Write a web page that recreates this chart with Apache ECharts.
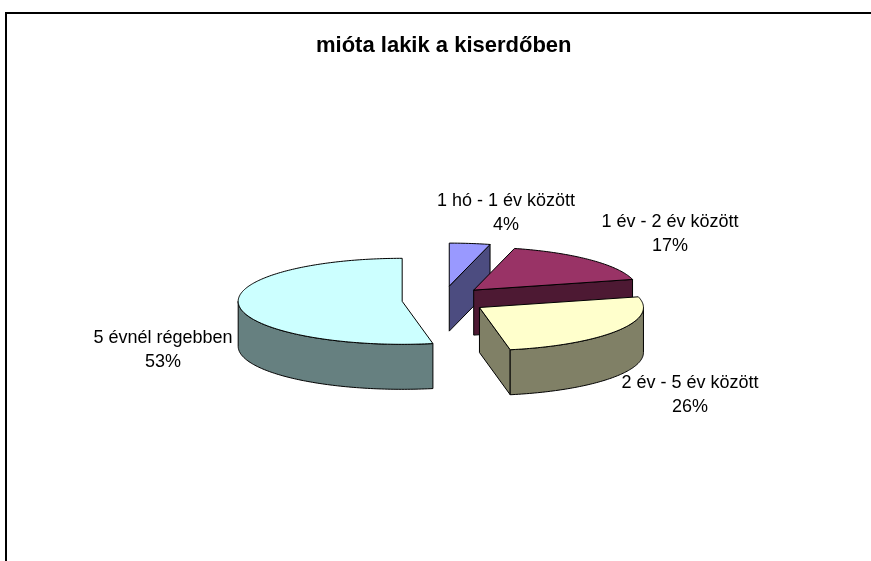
<!DOCTYPE html>
<html>
<head>
<meta charset="utf-8">
<script src="https://cdn.jsdelivr.net/npm/echarts@6/dist/echarts.min.js"></script>
<style>
html,body{margin:0;padding:0;background:#fff;}
#chart{width:871px;height:561px;}
</style>
</head>
<body>
<div id="chart"></div>
<script>
// ---- data ----
const categories = ['1 hó - 1 év között', '1 év - 2 év között', '2 év - 5 év között', '5 évnél régebben'];
const values = [4, 17, 26, 53];
const titleText = 'mióta lakik a kiserdőben';

// ---- styles / layout ----
const topColors = ['#9999FF', '#993366', '#FFFFCC', '#CCFFFF'];
const sideColors = ['#4C4C80', '#4D1933', '#808066', '#668080'];
const pie = { cx: 444, cy: 300, rx: 164, ry: 43, depth: 45, exX: 42, exY: 14 };
const labelOffsets = [[62, -87], [226, -66], [246, 95], [-281, 50]];
const FONT = 'Liberation Sans, Arial, sans-serif';

const total = values.reduce((a, b) => a + b, 0);
const starts = [];
let acc = 0;
values.forEach(v => { starts.push(acc / total * 360); acc += v; });

const rad = d => d * Math.PI / 180;

function renderItem(params, api) {
  const i = params.dataIndex;
  const v = api.value(0);
  const a0 = starts[i];
  const a1 = a0 + v / total * 360;
  const mid = (a0 + a1) / 2;
  const ax = pie.cx + pie.exX * Math.sin(rad(mid));
  const ay = pie.cy - pie.exY * Math.cos(rad(mid));
  const pt = (a, dz) => [ax + pie.rx * Math.sin(rad(a)), ay - pie.ry * Math.cos(rad(a)) + (dz || 0)];
  const arc = (from, to, dz) => {
    const pts = [];
    const n = Math.max(2, Math.ceil(Math.abs(to - from)));
    for (let k = 0; k <= n; k++) pts.push(pt(from + (to - from) * k / n, dz));
    return pts;
  };
  const children = [];
  const stroke = { stroke: '#000', lineWidth: 1, lineJoin: 'round' };
  // radial faces
  [a0, a1].forEach(th => {
    const s = Math.sin(rad(th));
    const vis = s * Math.sin(rad(mid - th)) < -1e-6;
    if (vis) {
      const e = pt(th), eb = pt(th, pie.depth);
      children.push({
        type: 'polygon', z2: i * 10 + 1,
        shape: { points: [[ax, ay], e, eb, [ax, ay + pie.depth]] },
        style: Object.assign({ fill: sideColors[i] }, stroke)
      });
    }
  });
  // outer wall
  const w0 = Math.max(a0, 90), w1 = Math.min(a1, 270);
  if (w1 > w0) {
    const topArc = arc(w0, w1, 0);
    const botArc = arc(w1, w0, pie.depth);
    children.push({
      type: 'polygon', z2: i * 10 + 2,
      shape: { points: topArc.concat(botArc) },
      style: Object.assign({ fill: sideColors[i] }, stroke)
    });
  }
  // top
  children.push({
    type: 'polygon', z2: i * 10 + 3,
    shape: { points: [[ax, ay]].concat(arc(a0, a1, 0)) },
    style: Object.assign({ fill: topColors[i] }, stroke)
  });
  // label
  const pct = Math.round(v / total * 100) + '%';
  children.push({
    type: 'text', z2: 200,
    x: pie.cx + labelOffsets[i][0],
    y: pie.cy + labelOffsets[i][1],
    style: {
      text: categories[i] + '\n' + pct,
      fontSize: 18, fontFamily: FONT, lineHeight: 24,
      fill: '#000', align: 'center', verticalAlign: 'middle'
    }
  });
  return { type: 'group', children: children };
}

const chart = echarts.init(document.getElementById('chart'), null, { renderer: 'canvas' });
chart.setOption({
  animation: false,
  backgroundColor: '#fff',
  title: {
    text: titleText, left: 316, top: 35, padding: 0,
    textStyle: { fontSize: 22, fontWeight: 'bold', fontFamily: FONT, color: '#000' }
  },
  graphic: [{
    type: 'rect', silent: true,
    shape: { x: 6, y: 13, width: 1000, height: 1000 },
    style: { fill: 'none', stroke: '#000', lineWidth: 2 }
  }],
  series: [{
    type: 'custom',
    coordinateSystem: 'none',
    silent: true,
    renderItem: renderItem,
    data: values.map((v, i) => ({ name: categories[i], value: v }))
  }]
});
</script>
</body>
</html>
